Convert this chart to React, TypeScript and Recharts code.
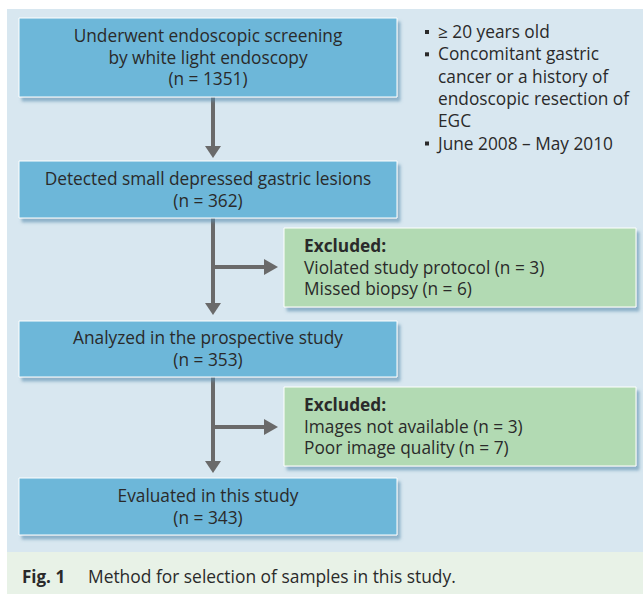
import React from "react";
import { ComposedChart, Customized, Rectangle, Text, Polygon } from "recharts";

// flow content
const stageLines = [
  ["Underwent endoscopic screening", "by white light endoscopy"],
  ["Detected small depressed gastric lesions"],
  ["Analyzed in the prospective study"],
  ["Evaluated in this study"],
];
const stageCounts = [1351, 362, 353, 343];

const exclusionReasons = [
  ["Violated study protocol", "Missed biopsy"],
  ["Images not available", "Poor image quality"],
];
const exclusionCounts = [
  [3, 6],
  [3, 7],
];

const criteriaLines = [
  ["≥ 20 years old"],
  ["Concomitant gastric", "cancer or a history of", "endoscopic resection of", "EGC"],
  ["June 2008 – May 2010"],
];

const figLabel = "Fig. 1";
const figCaption = "Method for selection of samples in this study.";

// layout
const W = 643;
const H = 594;
const BOX_X = [19, 397];
const stageTop = [18, 161, 321, 478];
const stageBottom = [97, 218, 377, 535];
const exclBox = [
  { x1: 284, x2: 636, y1: 228, y2: 307 },
  { x1: 284, x2: 636, y1: 387, y2: 466 },
];
const ARROW_X = 213;
const LINE_H = 21.8;
const FS = 17.3;

const FONT = "'Open Sans', sans-serif";
const TEXT = "#2a2a2a";
const BLUE = "#6db7d9";
const GREEN = "#b2dab3";
const PANEL = "#d8e7f0";
const CAPTION_BG = "#e8f2e7";
const ARROW = "#6a6a6a";

function DownArrow({ y1, y2 }: { y1: number; y2: number }) {
  const head = 12;
  return (
    <g>
      <rect x={ARROW_X - 2} y={y1} width={4} height={y2 - y1 - head + 1} fill={ARROW} />
      <Polygon
        points={[
          { x: ARROW_X - 8, y: y2 - head },
          { x: ARROW_X + 8, y: y2 - head },
          { x: ARROW_X, y: y2 },
        ]}
        fill={ARROW}
      />
    </g>
  );
}

function RightArrow({ y, x2 }: { y: number; x2: number }) {
  const head = 14;
  return (
    <g>
      <rect x={ARROW_X} y={y - 2} width={x2 - ARROW_X - head + 1} height={4} fill={ARROW} />
      <Polygon
        points={[
          { x: x2 - head, y: y - 8 },
          { x: x2 - head, y: y + 8 },
          { x: x2, y },
        ]}
        fill={ARROW}
      />
    </g>
  );
}

function Flow() {
  const cx = (BOX_X[0] + BOX_X[1]) / 2;
  return (
    <g fontFamily={FONT}>
      <defs>
        <filter id="shadow" x="-5%" y="-10%" width="115%" height="130%">
          <feDropShadow dx="3" dy="4" stdDeviation="1.6" floodColor="#4f86a8" floodOpacity="0.55" />
        </filter>
      </defs>
      <rect x={7} y={9} width={W - 7} height={543} fill={PANEL} />
      <rect x={7} y={552} width={W - 7} height={H - 552} fill={CAPTION_BG} />

      {/* arrows */}
      <DownArrow y1={stageBottom[0]} y2={158} />
      <DownArrow y1={stageBottom[1]} y2={315} />
      <DownArrow y1={stageBottom[2]} y2={473} />
      <RightArrow y={267} x2={278} />
      <RightArrow y={427} x2={278} />

      {/* stage boxes */}
      {stageLines.map((lines, i) => {
        const all = [...lines, `(n = ${stageCounts[i]})`];
        const mid = (stageTop[i] + stageBottom[i]) / 2;
        const start = mid - ((all.length - 1) * LINE_H) / 2;
        return (
          <g key={i}>
            <Rectangle
              x={BOX_X[0]}
              y={stageTop[i]}
              width={BOX_X[1] - BOX_X[0]}
              height={stageBottom[i] - stageTop[i]}
              fill={BLUE}
              stroke="#ffffff"
              strokeWidth={1}
              filter="url(#shadow)"
            />
            {all.map((t, j) => (
              <Text key={j} x={cx} y={start + j * LINE_H} textAnchor="middle" verticalAnchor="middle" fontSize={FS} fill={TEXT} fontFamily={FONT}>
                {t}
              </Text>
            ))}
          </g>
        );
      })}

      {/* exclusion boxes */}
      {exclBox.map((b, i) => {
        const all = ["Excluded:", ...exclusionReasons[i].map((r, k) => `${r} (n = ${exclusionCounts[i][k]})`)];
        const mid = (b.y1 + b.y2) / 2;
        const start = mid - ((all.length - 1) * LINE_H) / 2;
        return (
          <g key={i}>
            <Rectangle
              x={b.x1}
              y={b.y1}
              width={b.x2 - b.x1}
              height={b.y2 - b.y1}
              fill={GREEN}
              stroke="#ffffff"
              strokeWidth={1}
              filter="url(#shadow)"
            />
            {all.map((t, j) => (
              <Text
                key={j}
                x={304}
                y={start + j * LINE_H}
                textAnchor="start"
                verticalAnchor="middle"
                fontSize={FS}
                fontWeight={j === 0 ? 700 : 400}
                fill={TEXT}
                fontFamily={FONT}
              >
                {t}
              </Text>
            ))}
          </g>
        );
      })}

      {/* inclusion criteria */}
      {criteriaLines
        .reduce<{ t: string; bullet: boolean }[]>((acc, lines) => {
          lines.forEach((t, k) => acc.push({ t, bullet: k === 0 }));
          return acc;
        }, [])
        .map((l, j) => {
          const y = 32 + j * 22.3;
          return (
            <g key={j}>
              {l.bullet && <rect x={425} y={y - 2} width={4} height={4} fill={TEXT} />}
              <Text x={438} y={y} verticalAnchor="middle" fontSize={FS} fill={TEXT} fontFamily={FONT}>
                {l.t}
              </Text>
            </g>
          );
        })}

      {/* caption */}
      <Text x={22} y={577} verticalAnchor="middle" fontSize={17} fontWeight={700} fill={TEXT} fontFamily={FONT}>
        {figLabel}
      </Text>
      <Text x={88} y={577} verticalAnchor="middle" fontSize={17.4} fill={TEXT} fontFamily={FONT}>
        {figCaption}
      </Text>
    </g>
  );
}

export default function App() {
  return (
    <div style={{ position: "absolute", left: 0, top: 0, width: W, height: H, background: "#ffffff" }}>
      <ComposedChart width={W} height={H} data={stageCounts.map((n, i) => ({ i, n }))} margin={{ top: 0, right: 0, bottom: 0, left: 0 }}>
        <Customized component={Flow} />
      </ComposedChart>
    </div>
  );
}
